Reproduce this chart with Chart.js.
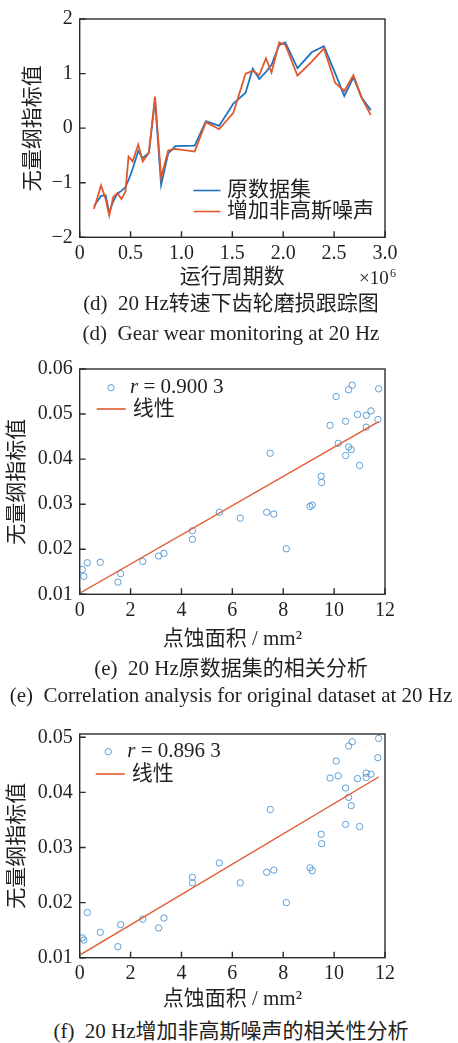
<!DOCTYPE html>
<html>
<head>
<meta charset="utf-8">
<script src="https://cdn.jsdelivr.net/npm/chart.js@4.4.1/dist/chart.umd.min.js"></script>
<style>
  body { margin: 0; background: #fff; width: 458px; height: 1043px; position: relative; overflow: hidden; }
  canvas { position: absolute; left: 0; }
  .cap { position: absolute; left: 0; width: 462px; text-align: center; white-space: pre;
         font-family: 'Liberation Serif', 'Noto Sans CJK SC', serif; font-size: 21px; line-height: 24px; color: #231f20; }
</style>
</head>
<body>
<canvas id="wear" width="458" height="292" style="top:0"></canvas>
<canvas id="corrOrig" width="458" height="310" style="top:350px"></canvas>
<canvas id="corrNoisy" width="458" height="300" style="top:715px"></canvas>

<div class="cap" style="top:291px">(d)  20 Hz转速下齿轮磨损跟踪图</div>
<div class="cap" style="top:321px">(d)  Gear wear monitoring at 20 Hz</div>
<div class="cap" style="top:656px">(e)  20 Hz原数据集的相关分析</div>
<div class="cap" style="top:683px">(e)  Correlation analysis for original dataset at 20 Hz</div>
<div class="cap" style="top:1019px">(f)  20 Hz增加非高斯噪声的相关性分析</div>

<script>
// (d) wear tracking, x in units of 10^6 cycles
const cycles = [0.14, 0.21, 0.255, 0.29, 0.33, 0.37, 0.41, 0.45, 0.48, 0.52, 0.575, 0.62, 0.68, 0.74, 0.80, 0.87, 0.94, 1.13,
                1.24, 1.37, 1.51, 1.63, 1.70, 1.765, 1.83, 1.885, 1.96, 2.02, 2.14, 2.28, 2.40, 2.51, 2.60, 2.69, 2.77, 2.86];
const wearOriginal = [-1.43, -1.24, -1.23, -1.55, -1.34, -1.20, -1.15, -1.08, -0.95, -0.75, -0.42, -0.55, -0.45, 0.52, -1.04, -0.46, -0.33, -0.32,
                      0.13, 0.04, 0.45, 0.65, 1.09, 0.90, 1.03, 1.16, 1.52, 1.57, 1.10, 1.39, 1.50, 1.01, 0.59, 0.93, 0.56, 0.33];
const wearNoisy = [-1.48, -1.05, -1.30, -1.60, -1.26, -1.19, -1.30, -1.16, -0.52, -0.61, -0.30, -0.61, -0.45, 0.58, -0.90, -0.41, -0.38, -0.43,
                   0.11, -0.02, 0.28, 1.00, 1.05, 0.97, 1.28, 1.02, 1.57, 1.53, 0.96, 1.22, 1.46, 0.83, 0.68, 0.97, 0.56, 0.24];
const cycleTicks = [0, 0.5, 1, 1.5, 2, 2.5, 3];
const wearTicks = [-2, -1, 0, 1, 2];

// (e)/(f) pitting area (mm^2) against the index
const pitArea = [0.10, 0.16, 0.30, 0.81, 1.50, 1.61, 2.48, 3.10, 3.31, 4.43, 4.43, 5.49, 6.31, 7.35, 7.49, 7.63, 8.12, 9.05, 9.14,
                 9.49, 9.51, 9.84, 10.08, 10.16, 10.45, 10.45, 10.57, 10.57, 10.67, 10.71, 10.92, 11.00, 11.26, 11.26, 11.45, 11.72, 11.75];
const indexOrig = [0.0155, 0.0140, 0.0170, 0.0171, 0.0127, 0.0146, 0.0173, 0.0185, 0.0191, 0.0241, 0.0222, 0.0282, 0.0269, 0.0282, 0.0413, 0.0278, 0.0201, 0.0295, 0.0298,
                   0.0362, 0.0348, 0.0475, 0.0539, 0.0435, 0.0484, 0.0408, 0.0554, 0.0427, 0.0421, 0.0564, 0.0499, 0.0386, 0.0497, 0.0471, 0.0507, 0.0488, 0.0556];
const indexNoisy = [0.0136, 0.0132, 0.0182, 0.0146, 0.0120, 0.0160, 0.0170, 0.0154, 0.0172, 0.0246, 0.0236, 0.0272, 0.0236, 0.0255, 0.0369, 0.0259, 0.0200, 0.0263, 0.0258,
                    0.0324, 0.0307, 0.0426, 0.0457, 0.0430, 0.0408, 0.0342, 0.0484, 0.0391, 0.0376, 0.0492, 0.0425, 0.0338, 0.0435, 0.0427, 0.0433, 0.0463, 0.0498];
const fitX = [0.05, 11.75];
const fitOrigY = [0.0104, 0.0483];
const fitNoisyY = [0.0106, 0.0428];
const areaTicks = [0, 2, 4, 6, 8, 10, 12];
const origTicks = [0.01, 0.02, 0.03, 0.04, 0.05, 0.06];
const noisyTicks = [0.01, 0.02, 0.03, 0.04, 0.05];

const SERIF = "'Liberation Serif', 'Noto Sans CJK SC', serif";
const INK = '#231f20';
const BLUE = '#1f74c2';
const ORANGE = '#e2572b';
const DOT = '#5a9edb';

const pts = (xs, ys) => xs.map((x, i) => ({ x: x, y: ys[i] }));

function xScale(ticks, fmt, title, height, titlePad) {
    return {
        type: 'linear', min: ticks[0], max: ticks[ticks.length - 1],
        afterBuildTicks: s => { s.ticks = ticks.map(v => ({ value: v })); },
        afterFit: s => { s.height = height; },
        grid: { display: false, drawTicks: false }, border: { display: false },
        ticks: { color: INK, font: { family: SERIF, size: 20 }, padding: 4, maxRotation: 0, autoSkip: false, callback: fmt },
        title: { display: true, text: title, color: INK, font: { family: SERIF, size: 21 }, padding: { top: 0, bottom: titlePad } }
    };
}

function yScale(ticks, min, max, fmt, titlePad) {
    return {
        min: min, max: max,
        afterBuildTicks: s => { s.ticks = ticks.map(v => ({ value: v })); },
        afterFit: s => { s.width = 79.7; },
        grid: { display: false, drawTicks: false }, border: { display: false },
        ticks: { color: INK, font: { family: SERIF, size: 20 }, padding: 7, autoSkip: false, callback: fmt },
        title: { display: true, text: '无量纲指标值', color: INK, font: { family: SERIF, size: 21 }, padding: { top: titlePad, bottom: 0 } }
    };
}

// box + inward ticks, then whatever legend the chart needs
function frame(extra) {
    return {
        id: 'frame',
        afterDraw(chart) {
            const { ctx, chartArea: a, scales: { x, y } } = chart;
            ctx.save();
            ctx.strokeStyle = '#2b2b2b';
            ctx.lineWidth = 1.4;
            ctx.strokeRect(a.left, a.top, a.right - a.left, a.bottom - a.top);
            ctx.beginPath();
            x.ticks.forEach(t => { const p = x.getPixelForValue(t.value); ctx.moveTo(p, a.bottom); ctx.lineTo(p, a.bottom - 6); });
            y.ticks.forEach(t => { const p = y.getPixelForValue(t.value); ctx.moveTo(a.left, p); ctx.lineTo(a.left + 6, p); });
            ctx.stroke();
            ctx.fillStyle = INK;
            ctx.textBaseline = 'middle';
            extra(ctx, chart);
            ctx.restore();
        }
    };
}

function lineSample(ctx, color, x, y, len) {
    ctx.strokeStyle = color;
    ctx.lineWidth = 1.6;
    ctx.beginPath(); ctx.moveTo(x, y); ctx.lineTo(x + len, y); ctx.stroke();
}

function scatterLegend(cx, cy, lineX, lineY) {
    return (ctx, chart) => {
        const [dots, fit] = chart.data.datasets;
        ctx.strokeStyle = DOT; ctx.lineWidth = 1;
        ctx.beginPath(); ctx.arc(cx, cy, 3.2, 0, Math.PI * 2); ctx.stroke();
        ctx.font = 'italic 21px ' + SERIF;
        ctx.fillText('r', cx + 19, cy);
        const w = ctx.measureText('r').width;
        ctx.font = '21px ' + SERIF;
        ctx.fillText(dots.label.slice(1), cx + 19 + w, cy);
        lineSample(ctx, fit.borderColor, lineX, lineY, 29);
        ctx.fillText(fit.label, lineX + 36, lineY);
    };
}

const common = {
    responsive: false,
    animation: false,
    plugins: { legend: { display: false }, tooltip: { enabled: false } }
};

new Chart(document.getElementById('wear'), {
    type: 'line',
    data: {
        datasets: [
            { label: '原数据集', data: pts(cycles, wearOriginal), borderColor: BLUE, borderWidth: 1.8, pointRadius: 0, tension: 0, order: 1 },
            { label: '增加非高斯噪声', data: pts(cycles, wearNoisy), borderColor: ORANGE, borderWidth: 1.8, pointRadius: 0, tension: 0, order: 0 }
        ]
    },
    options: {
        ...common,
        layout: { padding: { top: 15, right: 73, bottom: 0, left: 0 } },
        scales: {
            x: xScale(cycleTicks, v => v === 0 ? '0' : v.toFixed(1), '运行周期数', 54.7, 2),
            y: yScale(wearTicks, -2, 2, v => v < 0 ? '\u2212' + Math.abs(v) : String(v), 21)
        }
    },
    plugins: [frame((ctx, chart) => {
        chart.data.datasets.forEach((ds, i) => {
            const yy = 190.5 + i * 21;
            lineSample(ctx, ds.borderColor, 193.5, yy, 27);
            ctx.font = '21px ' + SERIF;
            ctx.fillText(ds.label, 227, yy);
        });
        ctx.font = '19px ' + SERIF;
        ctx.textBaseline = 'alphabetic';
        ctx.fillText('\u00d710', 359, 284);
        ctx.font = '12px ' + SERIF;
        ctx.fillText('6', 390, 277);
    })]
});

function corrChart(id, ys, fitY, yTicks, yMax, label, titlePad, xHeight, padTop, legend) {
    new Chart(document.getElementById(id), {
        type: 'scatter',
        data: {
            datasets: [
                { label: label, data: pts(pitArea, ys), pointRadius: 3.2, pointBorderWidth: 1, borderColor: DOT, backgroundColor: 'rgba(0,0,0,0)', order: 1 },
                { type: 'line', label: '线性', data: pts(fitX, fitY), borderColor: ORANGE, borderWidth: 1.4, pointRadius: 0, order: 0 }
            ]
        },
        options: {
            ...common,
            layout: { padding: { top: padTop, right: 73, bottom: 0, left: 0 } },
            scales: {
                x: xScale(areaTicks, v => String(v), '点蚀面积 / mm²', xHeight, titlePad),
                y: yScale(yTicks, 0.01, yMax, v => v.toFixed(2), 5)
            }
        },
        plugins: [frame(legend)]
    });
}

corrChart('corrOrig', indexOrig, fitOrigY, origTicks, 0.06, 'r = 0.900 3', 8, 65.7, 18.3, scatterLegend(111, 37.7, 96.7, 59));
corrChart('corrNoisy', indexNoisy, fitNoisyY, noisyTicks, 0.0506, 'r = 0.896 3', 3, 57.3, 12.7, scatterLegend(108.3, 36.7, 95.7, 59));
</script>
</body>
</html>
